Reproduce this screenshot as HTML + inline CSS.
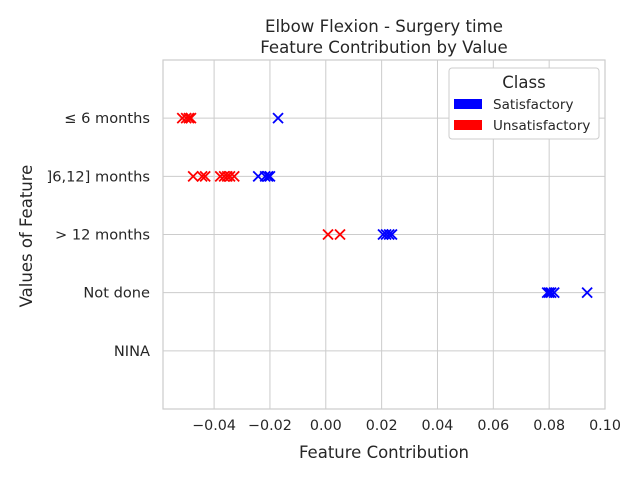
<!DOCTYPE html>
<html><head><meta charset="utf-8"><style>
body{margin:0;background:#fff;font-family:"Liberation Sans","DejaVu Sans",sans-serif;}
svg text{font-family:"DejaVu Sans","Liberation Sans",sans-serif;fill:#262626;}
</style></head><body>
<svg id="chart" width="640" height="480"></svg>
<script>
const categories=["≤ 6 months","]6,12] months","> 12 months","Not done","NINA"];
const xTicks=[-0.04,-0.02,0.00,0.02,0.04,0.06,0.08,0.10];
const xTickLabels=["−0.04","−0.02","0.00","0.02","0.04","0.06","0.08","0.10"];
const satCat=[0,1,1,1,1,2,2,2,2,3,3,3,3,3];
const satVal=[-0.0171,-0.0242,-0.0217,-0.0207,-0.0200,0.0205,0.0216,0.0227,0.0237,0.0793,0.0800,0.0807,0.0818,0.0936];
const unsCat=[0,0,0,0,1,1,1,1,1,1,1,1,2,2];
const unsVal=[-0.0514,-0.0500,-0.0490,-0.0483,-0.0475,-0.0443,-0.0432,-0.0378,-0.0364,-0.0353,-0.0343,-0.0328,0.0008,0.0051];

const NS="http://www.w3.org/2000/svg";
const svg=document.getElementById('chart');
const L=163,R=605,T=60,B=409;
const xMin=-0.0583,xMax=0.10;
const xs=v=>L+(v-xMin)/(xMax-xMin)*(R-L);
const ys=i=>T+(i+1)/6*(B-T);
function mk(tag,attrs,parent){const e=document.createElementNS(NS,tag);for(const k in attrs)e.setAttribute(k,attrs[k]);(parent||svg).appendChild(e);return e;}
function txt(s,attrs){const e=mk('text',attrs);e.textContent=s;return e;}

const grid=mk('g',{});


xTicks.forEach((v,i)=>{
  mk('line',{x1:xs(v),x2:xs(v),y1:T,y2:B,stroke:'#cccccc','stroke-width':1},grid);
  const t=txt(xTickLabels[i],{x:xs(v),y:B+21,'text-anchor':'middle','font-size':14.3});
  
  
});
categories.forEach((c,i)=>{
  mk('line',{x1:L,x2:R,y1:ys(i),y2:ys(i),stroke:'#cccccc','stroke-width':1},grid);
  const t=txt(c,{x:L-13,y:ys(i)+5,'text-anchor':'end','font-size':14.6});
  
  
});
const frame=mk('rect',{x:L,y:T,width:R-L,height:B-T,fill:'none',stroke:'#cccccc','stroke-width':1.2});



function cross(x,y,color,name){
  const g=mk('g',{stroke:color,'stroke-width':1.8});
  
  
  const s=5;
  mk('line',{x1:x-s,y1:y-s,x2:x+s,y2:y+s},g);
  mk('line',{x1:x-s,y1:y+s,x2:x+s,y2:y-s},g);
}
unsVal.forEach((v,i)=>cross(xs(v),ys(unsCat[i]),'#ff0000','unsatisfactory-point'));
satVal.forEach((v,i)=>cross(xs(v),ys(satCat[i]),'#0000ff','satisfactory-point'));

let t;
t=txt('Elbow Flexion - Surgery time',{x:384,y:32,'text-anchor':'middle','font-size':16.6});

t=txt('Feature Contribution by Value',{x:384,y:53,'text-anchor':'middle','font-size':16.6});

t=txt('Feature Contribution',{x:384,y:458,'text-anchor':'middle','font-size':16.5});

t=txt('Values of Feature',{x:32,y:236,'text-anchor':'middle','font-size':16.5,transform:'rotate(-90 32 236)'});


const lg=mk('g',{});


mk('rect',{x:449,y:68,width:150,height:71,rx:3,fill:'#fff',stroke:'#cccccc'},lg);
const lt=mk('text',{x:524,y:88,'text-anchor':'middle','font-size':16.5},lg);lt.textContent='Class';
mk('rect',{x:454,y:99,width:28,height:10,fill:'#0000ff'},lg);
const l1=mk('text',{x:493,y:109,'font-size':13.5},lg);l1.textContent='Satisfactory';
mk('rect',{x:454,y:120,width:28,height:10,fill:'#ff0000'},lg);
const l2=mk('text',{x:493,y:130,'font-size':13.5},lg);l2.textContent='Unsatisfactory';
</script>
</body></html>
